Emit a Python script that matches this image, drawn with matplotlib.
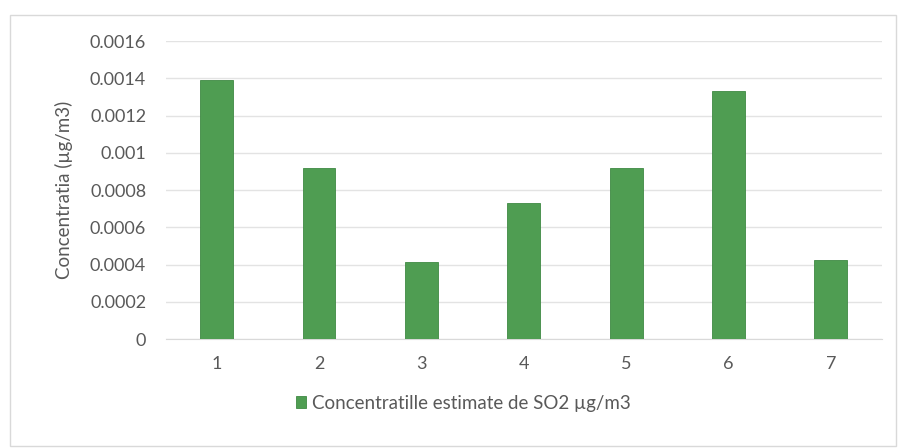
import matplotlib.pyplot as plt
from matplotlib.patches import Rectangle

categories = ["1", "2", "3", "4", "5", "6", "7"]
values = [0.00139, 0.00092, 0.000413, 0.00073, 0.00092, 0.00133, 0.000424]
yticks = [0, 0.0002, 0.0004, 0.0006, 0.0008, 0.001, 0.0012, 0.0014, 0.0016]
ytick_labels = ["0", "0.0002", "0.0004", "0.0006", "0.0008", "0.001", "0.0012", "0.0014", "0.0016"]
series_name = "Concentratille estimate de SO2 µg/m3"
ylabel = "Concentratia (µg/m3)"

plt.rcParams["font.family"] = ["Lato", "DejaVu Sans"]
text_color = "#595959"
bar_color = "#4f9d52"

fig = plt.figure(figsize=(9, 4.48), dpi=100)
ax = fig.add_axes([0.184, 0.243, 0.796, 0.665])

# chart-area border like the Excel frame
fig.patches.append(Rectangle((0.011, 0.005), 0.985, 0.961, transform=fig.transFigure,
                             fill=False, edgecolor="#d9d9d9", linewidth=1.0))

x = range(len(categories))
ax.bar(x, values, width=0.32, color=bar_color, edgecolor="#3f8a43", linewidth=0.6,
       label=series_name, zorder=3)

ax.set_xlim(-0.5, len(categories) - 0.5)
ax.set_ylim(0, 0.0016)
ax.set_xticks(list(x))
ax.set_xticklabels(categories, fontsize=13, color=text_color)
ax.set_yticks(yticks)
ax.set_yticklabels(ytick_labels, fontsize=13, color=text_color)
ax.tick_params(length=0)
ax.tick_params(axis="y", pad=14)
ax.tick_params(axis="x", pad=12)
ax.grid(axis="y", color="#e3e3e3", linewidth=1.0, zorder=0)
for side in ["top", "right", "left"]:
    ax.spines[side].set_visible(False)
ax.spines["bottom"].set_color("#d9d9d9")
ax.set_ylabel(ylabel, fontsize=13.5, color=text_color, labelpad=12)

fig.legend(loc="center", bbox_to_anchor=(0.515, 0.1), frameon=False, fontsize=13.5,
           handlelength=0.55, handleheight=0.55, handletextpad=0.3, labelcolor=text_color)

fig.savefig("out.png", dpi=100)
